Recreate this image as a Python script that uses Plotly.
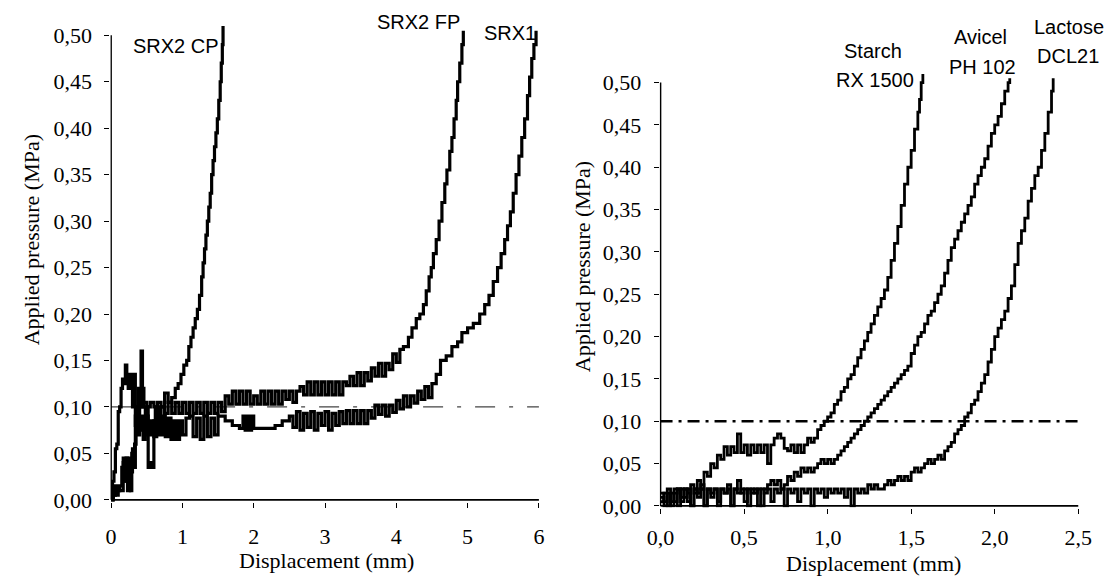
import plotly.graph_objects as go

# ---------------- data ----------------
# Left panel: displacement (mm) vs applied pressure (MPa)
srx2cp_x = [0.00, 0.02, 0.04, 0.06, 0.08, 0.10, 0.12, 0.14, 0.16, 0.18, 0.20, 0.22, 0.24, 0.26, 0.28, 0.30, 0.32, 0.34, 0.36, 0.38,
            0.40, 0.45, 0.50, 0.55, 0.60, 0.65, 0.70, 0.75, 0.80, 0.85, 0.90, 0.94, 0.98, 1.02, 1.06, 1.09, 1.12, 1.15, 1.18, 1.21,
            1.24, 1.27, 1.29, 1.31, 1.33, 1.35, 1.37, 1.39, 1.41, 1.43, 1.45, 1.47, 1.49, 1.51, 1.53, 1.545, 1.56, 1.57]
srx2cp_y = [0.000, 0.020, 0.030, 0.055, 0.060, 0.095, 0.100, 0.120, 0.130, 0.125, 0.145, 0.135, 0.120, 0.135, 0.130, 0.100, 0.135, 0.080, 0.100, 0.075,
            0.100, 0.105, 0.100, 0.105, 0.100, 0.105, 0.100, 0.115, 0.105, 0.110, 0.120, 0.125, 0.135, 0.145, 0.150, 0.165, 0.175, 0.185, 0.195, 0.205,
            0.220, 0.240, 0.255, 0.270, 0.285, 0.300, 0.315, 0.330, 0.350, 0.365, 0.380, 0.395, 0.410, 0.430, 0.450, 0.470, 0.490, 0.510]

srx2fp_x = [0.00, 0.03, 0.06, 0.10, 0.14, 0.17, 0.19, 0.21, 0.23, 0.26, 0.28, 0.30, 0.32, 0.34, 0.36, 0.38, 0.40, 0.42, 0.44, 0.46,
            0.48, 0.50, 0.52, 0.55, 0.58, 0.60, 0.62, 0.66, 0.70, 0.75, 0.80, 0.85, 0.90, 0.95, 1.00, 1.05, 1.10, 1.15, 1.20, 1.25,
            1.30, 1.35, 1.40, 1.45, 1.50, 1.55, 1.60, 1.65, 1.70, 1.75, 1.80, 1.85, 1.90, 1.95, 2.00, 2.05, 2.10, 2.15, 2.20, 2.25,
            2.30, 2.35, 2.40, 2.45, 2.50, 2.55, 2.60, 2.65, 2.70, 2.75, 2.80, 2.85, 2.90, 2.95, 3.00, 3.05, 3.10, 3.15, 3.20, 3.25,
            3.30, 3.35, 3.40, 3.45, 3.50, 3.55, 3.60, 3.65, 3.70, 3.75, 3.80, 3.85, 3.90, 3.95, 4.00, 4.05, 4.10, 4.17, 4.22, 4.28,
            4.33, 4.38, 4.42, 4.46, 4.49, 4.52, 4.56, 4.60, 4.64, 4.68, 4.71, 4.75, 4.78, 4.81, 4.84, 4.86, 4.89, 4.92, 4.94]
srx2fp_y = [0.000, 0.010, 0.005, 0.010, 0.010, 0.040, 0.020, 0.045, 0.010, 0.040, 0.030, 0.055, 0.035, 0.090, 0.075, 0.120, 0.100, 0.160, 0.120, 0.100,
            0.085, 0.100, 0.035, 0.040, 0.035, 0.085, 0.100, 0.090, 0.100, 0.093, 0.105, 0.093, 0.105, 0.093, 0.105, 0.093, 0.105, 0.093, 0.105, 0.093,
            0.105, 0.093, 0.105, 0.093, 0.105, 0.095, 0.112, 0.103, 0.117, 0.103, 0.117, 0.103, 0.117, 0.103, 0.112, 0.103, 0.117, 0.103, 0.117, 0.103,
            0.117, 0.103, 0.117, 0.108, 0.117, 0.105, 0.117, 0.122, 0.113, 0.127, 0.113, 0.127, 0.113, 0.127, 0.113, 0.127, 0.113, 0.127, 0.113, 0.127,
            0.123, 0.133, 0.123, 0.137, 0.123, 0.137, 0.128, 0.142, 0.133, 0.147, 0.133, 0.147, 0.140, 0.157, 0.148, 0.162, 0.165, 0.175, 0.185, 0.195,
            0.200, 0.210, 0.225, 0.240, 0.250, 0.265, 0.280, 0.300, 0.320, 0.340, 0.355, 0.375, 0.390, 0.410, 0.430, 0.450, 0.470, 0.490, 0.505]

srx1_x = [0.00, 0.03, 0.06, 0.09, 0.12, 0.15, 0.17, 0.19, 0.21, 0.23, 0.25, 0.27, 0.29, 0.31, 0.33, 0.35, 0.37, 0.40, 0.42, 0.45,
          0.48, 0.52, 0.56, 0.60, 0.64, 0.68, 0.72, 0.76, 0.80, 0.84, 0.88, 0.92, 0.96, 1.00, 1.05, 1.10, 1.15, 1.20, 1.25, 1.30,
          1.35, 1.40, 1.45, 1.50, 1.60, 1.70, 1.80, 1.85, 1.88, 1.91, 1.94, 1.97, 2.00, 2.20, 2.30, 2.40, 2.50, 2.55, 2.60, 2.65,
          2.70, 2.75, 2.80, 2.85, 2.90, 2.95, 3.00, 3.05, 3.10, 3.15, 3.20, 3.25, 3.30, 3.35, 3.40, 3.45, 3.50, 3.55, 3.60, 3.65,
          3.70, 3.75, 3.80, 3.85, 3.90, 3.95, 4.00, 4.05, 4.10, 4.15, 4.20, 4.25, 4.30, 4.35, 4.40, 4.45, 4.50, 4.56, 4.62, 4.70,
          4.78, 4.86, 4.92, 5.00, 5.08, 5.17, 5.24, 5.30, 5.36, 5.42, 5.47, 5.52, 5.56, 5.60, 5.64, 5.68, 5.72, 5.76, 5.80, 5.84,
          5.87, 5.90, 5.93, 5.96]
srx1_y = [0.000, 0.005, 0.015, 0.010, 0.015, 0.035, 0.045, 0.030, 0.020, 0.045, 0.015, 0.010, 0.050, 0.035, 0.060, 0.090, 0.070, 0.075, 0.090, 0.065,
          0.090, 0.070, 0.085, 0.068, 0.090, 0.070, 0.090, 0.068, 0.088, 0.065, 0.085, 0.065, 0.085, 0.070, 0.088, 0.090, 0.068, 0.088, 0.065, 0.090,
          0.068, 0.088, 0.070, 0.090, 0.085, 0.080, 0.077, 0.090, 0.075, 0.090, 0.075, 0.090, 0.077, 0.077, 0.080, 0.085, 0.090, 0.078, 0.095, 0.075,
          0.093, 0.078, 0.095, 0.075, 0.093, 0.080, 0.095, 0.075, 0.093, 0.080, 0.095, 0.082, 0.096, 0.082, 0.096, 0.082, 0.096, 0.082, 0.096, 0.088,
          0.102, 0.092, 0.102, 0.090, 0.102, 0.094, 0.107, 0.098, 0.112, 0.100, 0.112, 0.104, 0.117, 0.108, 0.122, 0.110, 0.125, 0.135, 0.150, 0.155,
          0.165, 0.170, 0.180, 0.185, 0.190, 0.200, 0.210, 0.220, 0.235, 0.250, 0.265, 0.280, 0.295, 0.310, 0.330, 0.350, 0.370, 0.390, 0.410, 0.435,
          0.455, 0.475, 0.490, 0.505]

# Right panel
starch_x = [0.00, 0.02, 0.04, 0.06, 0.08, 0.10, 0.12, 0.14, 0.16, 0.18, 0.20, 0.22, 0.24, 0.26, 0.28, 0.30, 0.32, 0.34, 0.36, 0.38,
            0.40, 0.42, 0.44, 0.46, 0.48, 0.50, 0.52, 0.54, 0.56, 0.58, 0.60, 0.62, 0.64, 0.66, 0.68, 0.70, 0.72, 0.74, 0.76, 0.78,
            0.80, 0.82, 0.84, 0.86, 0.88, 0.90, 0.92, 0.94, 0.96, 0.98, 1.00, 1.02, 1.04, 1.06, 1.08, 1.10, 1.12, 1.14, 1.16, 1.18,
            1.20, 1.22, 1.24, 1.26, 1.28, 1.30, 1.32, 1.34, 1.36, 1.38, 1.40, 1.42, 1.44, 1.46, 1.48, 1.50, 1.52, 1.54, 1.55, 1.56, 1.57]
starch_y = [0.005, 0.015, 0.000, 0.015, 0.005, 0.020, 0.010, 0.020, 0.005, 0.025, 0.015, 0.030, 0.020, 0.040, 0.035, 0.050, 0.045, 0.060, 0.055, 0.070,
            0.060, 0.070, 0.063, 0.085, 0.063, 0.072, 0.060, 0.072, 0.063, 0.072, 0.063, 0.072, 0.050, 0.072, 0.080, 0.085, 0.080, 0.068, 0.065, 0.072,
            0.063, 0.072, 0.063, 0.072, 0.080, 0.075, 0.080, 0.090, 0.095, 0.100, 0.105, 0.110, 0.120, 0.125, 0.135, 0.140, 0.150, 0.155, 0.165, 0.175,
            0.185, 0.195, 0.205, 0.215, 0.225, 0.235, 0.245, 0.255, 0.270, 0.290, 0.310, 0.330, 0.355, 0.380, 0.400, 0.420, 0.445, 0.465, 0.480, 0.500, 0.510]

avicel_x = [0.00, 0.02, 0.04, 0.06, 0.08, 0.10, 0.12, 0.14, 0.16, 0.18, 0.20, 0.22, 0.24, 0.26, 0.28, 0.30, 0.32, 0.34, 0.36, 0.38,
            0.40, 0.42, 0.44, 0.46, 0.48, 0.50, 0.52, 0.54, 0.56, 0.58, 0.60, 0.62, 0.64, 0.66, 0.68, 0.70, 0.72, 0.74, 0.76, 0.78,
            0.80, 0.82, 0.84, 0.86, 0.88, 0.90, 0.92, 0.94, 0.96, 0.98, 1.00, 1.02, 1.04, 1.06, 1.08, 1.10, 1.12, 1.14, 1.16, 1.18,
            1.20, 1.22, 1.24, 1.26, 1.28, 1.30, 1.32, 1.34, 1.36, 1.38, 1.40, 1.42, 1.44, 1.46, 1.48, 1.50, 1.52, 1.54, 1.56, 1.58,
            1.60, 1.62, 1.64, 1.66, 1.68, 1.70, 1.72, 1.74, 1.76, 1.78, 1.80, 1.82, 1.84, 1.86, 1.88, 1.90, 1.92, 1.94, 1.96, 1.98,
            2.00, 2.02, 2.04, 2.06, 2.08, 2.09]
avicel_y = [0.010, 0.000, 0.015, 0.005, 0.020, 0.000, 0.020, 0.010, 0.020, 0.000, 0.020, 0.010, 0.025, 0.000, 0.020, 0.015, 0.020, 0.000, 0.020, 0.015,
            0.025, 0.000, 0.020, 0.030, 0.015, 0.020, 0.000, 0.020, 0.015, 0.020, 0.000, 0.020, 0.025, 0.030, 0.025, 0.030, 0.020, 0.025, 0.035, 0.030,
            0.040, 0.035, 0.045, 0.040, 0.045, 0.040, 0.045, 0.050, 0.055, 0.050, 0.055, 0.050, 0.055, 0.060, 0.065, 0.070, 0.075, 0.080, 0.085, 0.090,
            0.095, 0.100, 0.105, 0.110, 0.115, 0.120, 0.125, 0.130, 0.135, 0.140, 0.145, 0.150, 0.155, 0.160, 0.165, 0.180, 0.190, 0.200, 0.205, 0.215,
            0.225, 0.230, 0.240, 0.250, 0.260, 0.275, 0.290, 0.305, 0.315, 0.325, 0.335, 0.345, 0.355, 0.365, 0.380, 0.390, 0.400, 0.410, 0.425, 0.440,
            0.450, 0.460, 0.475, 0.490, 0.500, 0.505]

lactose_x = [0.00, 0.02, 0.04, 0.06, 0.08, 0.10, 0.12, 0.14, 0.16, 0.18, 0.20, 0.22, 0.24, 0.26, 0.28, 0.30, 0.32, 0.34, 0.36, 0.38,
             0.40, 0.42, 0.44, 0.46, 0.48, 0.50, 0.52, 0.54, 0.56, 0.58, 0.60, 0.62, 0.64, 0.66, 0.68, 0.70, 0.72, 0.74, 0.76, 0.78,
             0.80, 0.82, 0.84, 0.86, 0.88, 0.90, 0.92, 0.94, 0.96, 0.98, 1.00, 1.02, 1.04, 1.06, 1.08, 1.10, 1.12, 1.14, 1.16, 1.18,
             1.20, 1.22, 1.24, 1.26, 1.28, 1.30,
             1.32, 1.34, 1.36, 1.38, 1.40, 1.42, 1.44, 1.46, 1.48, 1.50, 1.52, 1.54, 1.56, 1.58, 1.60, 1.62, 1.64, 1.66, 1.68, 1.70,
             1.72, 1.74, 1.76, 1.78, 1.80, 1.82, 1.84, 1.86, 1.88, 1.90, 1.92, 1.94, 1.96, 1.98, 2.00, 2.02, 2.04, 2.06, 2.08, 2.10,
             2.12, 2.14, 2.16, 2.18, 2.20, 2.22, 2.24, 2.26, 2.28, 2.30, 2.32, 2.34, 2.35]
lactose_y = [0.015, 0.005, 0.020, 0.000, 0.015, 0.020, 0.005, 0.020, 0.015, 0.000, 0.020, 0.015, 0.020, 0.000, 0.020, 0.010, 0.020, 0.005, 0.020, 0.015,
             0.020, 0.000, 0.020, 0.015, 0.020, 0.005, 0.020, 0.015, 0.020, 0.000, 0.020, 0.015, 0.020, 0.005, 0.020, 0.015, 0.020, 0.000, 0.020, 0.015,
             0.020, 0.005, 0.020, 0.015, 0.020, 0.000, 0.020, 0.015, 0.020, 0.010, 0.020, 0.015, 0.020, 0.015, 0.020, 0.010, 0.020, 0.000, 0.020, 0.015,
             0.020, 0.015, 0.025, 0.020, 0.025, 0.020,
             0.020, 0.025, 0.030, 0.025, 0.030, 0.035, 0.030, 0.035, 0.030, 0.040, 0.045, 0.040, 0.045, 0.050, 0.055, 0.050, 0.055, 0.060, 0.055, 0.065,
             0.070, 0.075, 0.085, 0.090, 0.095, 0.105, 0.110, 0.120, 0.125, 0.135, 0.145, 0.155, 0.170, 0.185, 0.200, 0.210, 0.220, 0.230, 0.245, 0.260,
             0.285, 0.310, 0.325, 0.340, 0.360, 0.375, 0.390, 0.400, 0.420, 0.440, 0.465, 0.490, 0.505]

ref_left_x = [0.0, 6.0]
ref_right_x = [0.0, 2.5]
ref_level = [0.10, 0.10]

left_xticks = [0, 1, 2, 3, 4, 5, 6]
left_xtext = ["0", "1", "2", "3", "4", "5", "6"]
right_xticks = [0.0, 0.5, 1.0, 1.5, 2.0, 2.5]
right_xtext = ["0,0", "0,5", "1,0", "1,5", "2,0", "2,5"]
yticks = [0.00, 0.05, 0.10, 0.15, 0.20, 0.25, 0.30, 0.35, 0.40, 0.45, 0.50]
ytext = ["0,00", "0,05", "0,10", "0,15", "0,20", "0,25", "0,30", "0,35", "0,40", "0,45", "0,50"]

# ---------------- layout helpers (pixel geometry) ----------------
W, H = 1116, 583
OFF = 8  # the page body margin shifts the figure by 8px; compensate
def fx(p):
    return (p - OFF) / W
def fy(p):
    return 1 - (p - OFF) / H

SERIF = "Liberation Serif, Times New Roman, serif"
SANS = "Liberation Sans, Arial, sans-serif"

LX0, LXS = 100.0, 72.8
LY0, LYS = 509.3, 947.0
lxr = [-0.01, 6.01]
lyr = [-0.002, 0.52]
RX0, RXS = 661.0, 170.6
RY0, RYS = 515.5, 863.0
rxr = [-0.005, 2.52]
ryr = [-0.002, 0.52]

fig = go.Figure()

def add_curve(x, y, xa, ya, width):
    fig.add_trace(go.Scatter(x=x, y=y, mode="lines", xaxis=xa, yaxis=ya,
                             line=dict(color="black", width=width, shape="hv"),
                             showlegend=False, hoverinfo="skip"))

fig.add_trace(go.Scatter(x=ref_left_x, y=ref_level, mode="lines", xaxis="x", yaxis="y",
                         line=dict(color="#444444", width=1.2, dash="20px,14px,4px,14px"),
                         showlegend=False, hoverinfo="skip"))
fig.add_trace(go.Scatter(x=ref_right_x, y=ref_level, mode="lines", xaxis="x2", yaxis="y2",
                         line=dict(color="black", width=2.6, dash="12px,6px,3px,6px"),
                         showlegend=False, hoverinfo="skip"))

add_curve(srx2cp_x, srx2cp_y, "x", "y", 3.2)
add_curve(srx2fp_x, srx2fp_y, "x", "y", 3.2)
add_curve(srx1_x, srx1_y, "x", "y", 3.2)
add_curve(starch_x, starch_y, "x2", "y2", 2.8)
add_curve(avicel_x, avicel_y, "x2", "y2", 2.8)
add_curve(lactose_x, lactose_y, "x2", "y2", 2.8)

tickfont = dict(family=SERIF, size=22, color="black")
common = dict(showgrid=False, zeroline=False, showline=False, ticks="outside",
              ticklen=5, tickwidth=1.3, tickcolor="black", tickfont=tickfont)

fig.update_layout(
    width=W, height=H,
    margin=dict(l=0, r=0, t=0, b=0),
    paper_bgcolor="white", plot_bgcolor="white",
    xaxis=dict(domain=[fx(LX0 + lxr[0] * LXS), fx(LX0 + lxr[1] * LXS)], range=lxr, anchor="y",
               tickvals=left_xticks, ticktext=left_xtext, ticklabelstandoff=10, **common),
    yaxis=dict(domain=[fy(LY0 - lyr[0] * LYS), fy(LY0 - lyr[1] * LYS)], range=lyr, anchor="x",
               tickvals=yticks, ticktext=ytext, ticklabelstandoff=8, **common),
    xaxis2=dict(domain=[fx(RX0 + rxr[0] * RXS), fx(RX0 + rxr[1] * RXS)], range=rxr, anchor="y2",
                tickvals=right_xticks, ticktext=right_xtext, ticklabelstandoff=5, **common),
    yaxis2=dict(domain=[fy(RY0 - ryr[0] * RYS), fy(RY0 - ryr[1] * RYS)], range=ryr, anchor="x2",
                tickvals=yticks, ticktext=ytext, ticklabelstandoff=8, **common),
)

axis_line = dict(color="black", width=1.6)
fig.add_shape(type="line", xref="x", yref="y", x0=0, x1=0, y0=0, y1=0.5, line=axis_line)
fig.add_shape(type="line", xref="x", yref="y", x0=0, x1=6, y0=0, y1=0, line=axis_line)
fig.add_shape(type="line", xref="x2", yref="y2", x0=0, x1=0, y0=0, y1=0.5, line=axis_line)
fig.add_shape(type="line", xref="x2", yref="y2", x0=0, x1=2.5, y0=0, y1=0, line=axis_line)

def ann(text, x, y, font, size, angle=0):
    fig.add_annotation(text=text, xref="paper", yref="paper", x=fx(x), y=fy(y),
                       xanchor="center", yanchor="middle", showarrow=False, textangle=angle,
                       font=dict(family=font, size=size, color="black"))

ann("Displacement (mm)", 320, 571, SERIF, 22)
ann("Displacement (mm)", 878, 574, SERIF, 22)
ann("Applied pressure (MPa)", 19, 244, SERIF, 22, -90)
ann("Applied pressure (MPa)", 581, 272, SERIF, 22, -90)

ann("SRX2 CP", 166, 47, SANS, 20)
ann("SRX2 FP", 414, 22, SANS, 20)
ann("SRX1", 507, 33, SANS, 20)
ann("Starch", 878, 52, SANS, 20)
ann("RX 1500", 880, 81, SANS, 20)
ann("Avicel", 988, 38, SANS, 20)
ann("PH 102", 990, 68, SANS, 20)
ann("Lactose", 1078, 27, SANS, 20)
ann("DCL21", 1077, 57, SANS, 20)

fig.write_html("out.html")
